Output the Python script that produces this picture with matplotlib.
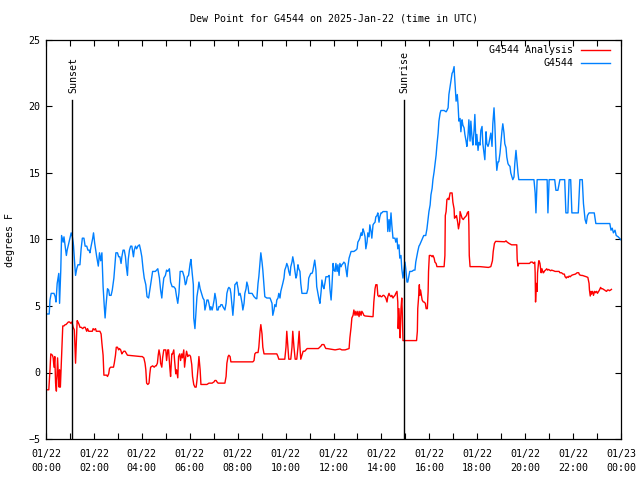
import matplotlib
matplotlib.use('Agg')
import matplotlib.pyplot as plt
import matplotlib.transforms as mtransforms
import numpy as np

# G4544 observations: minutes after 00:00 UTC and dew point in degrees F
blue_min = [0, 8, 10, 13, 20, 23, 25, 28, 32, 34, 37, 39, 43, 45, 48, 51, 53, 57, 60, 63, 66, 68, 69, 72, 74, 77,
            80, 85, 88, 91, 95, 98, 102, 105, 108, 110, 113, 117, 119, 122, 124, 127, 131, 134, 137, 140, 143, 146,
            148, 150, 154, 157, 159, 163, 166, 170, 173, 175, 179, 182, 185, 188, 190, 193, 196, 199, 201, 204, 206,
            209, 212, 215, 219, 221, 224, 227, 230, 234, 237, 240, 243, 246, 250, 253, 257, 260, 264, 267, 274, 277,
            280, 284, 287, 290, 292, 295, 299, 302, 305, 309, 312, 316, 320, 324, 327, 330, 333, 336, 342, 346, 349,
            351, 354, 357, 361, 363, 366, 369,
            370, 373, 376, 378, 381, 383, 386, 388, 391, 393, 396, 398, 401, 403, 406, 408, 411, 413, 416, 418, 421,
            423, 426, 428, 431, 433, 436, 438, 441, 443, 446, 448, 451, 453, 456, 458, 461, 463, 466, 468, 471, 473,
            476, 478, 481, 483, 486, 488, 491, 493, 496, 498, 501, 503, 506, 508, 516, 521, 526, 528, 531, 533, 536,
            538, 541, 543, 546, 548, 553, 561, 563, 566, 568, 571, 573, 576, 578, 581, 583, 586, 588, 591, 593, 596,
            598, 601, 603, 606, 608, 611, 613, 616, 618, 621, 623, 626, 628, 631, 633, 636, 638, 641, 653, 656, 658,
            661, 663, 666, 668, 671, 673, 676, 678, 681, 684, 686, 689, 691, 694, 696, 699, 701, 704, 706, 709, 711,
            714, 716, 719, 721, 724,
            726, 729, 731, 734, 736, 739, 741, 744, 746, 749, 751, 754, 756, 759, 761, 764, 771, 776, 779, 781, 784,
            786, 789, 791, 794, 796, 799, 801, 804, 806, 809, 811, 814, 816, 819, 821, 824, 826, 829, 831, 834, 836,
            839, 841, 844, 854, 856, 859, 861, 864, 866, 869, 871, 874, 876, 879, 881, 884, 886, 889, 891, 894, 896,
            899, 901, 904, 906, 909, 911, 916, 921, 924, 926, 929, 931, 934, 936, 941, 946, 951, 954, 957, 959, 962,
            964, 967, 969, 972, 974, 977, 979, 982, 984, 987, 989, 997, 1002, 1004, 1007, 1009, 1012, 1014, 1017,
            1019, 1022, 1023, 1025, 1027, 1030, 1032, 1034, 1037, 1039, 1042, 1044, 1047, 1049, 1052, 1054, 1057,
            1059, 1062, 1064, 1067, 1069, 1072, 1074, 1077, 1079, 1082, 1084, 1087,
            1089, 1092, 1094, 1097, 1099, 1102, 1104, 1107, 1109, 1112, 1114, 1117, 1119, 1122, 1124, 1127, 1129,
            1132, 1134, 1137, 1139, 1142, 1144, 1147, 1149, 1152, 1154, 1157, 1159, 1162, 1164, 1167, 1169, 1172,
            1174, 1177, 1179, 1182, 1184,
            1222, 1225, 1227, 1230, 1255, 1257, 1260, 1274, 1277, 1282, 1287, 1299, 1302, 1307, 1310, 1314, 1317,
            1333, 1337, 1343, 1346, 1350, 1353, 1356, 1360, 1373, 1377, 1412, 1415, 1418, 1421, 1425, 1428, 1433,
            1440]
blue_val = [4.4, 4.4, 5.45, 5.95, 5.95, 5.7, 5.3, 6.7, 7.45, 5.2, 7.7, 10.3, 9.8, 10.2, 9.5, 8.8, 9.2, 9.7, 10.1,
            10.5, 10.2, 9.8, 9.5, 8.1, 7.3, 7.8, 8.1, 8.1, 9.3, 10.1, 10.1, 9.5, 9.5, 9.2, 9.2, 9.0, 9.5, 10.1, 10.5,
            9.7, 9.3, 8.7, 8.0, 9.0, 8.4, 9.0, 6.45, 4.95, 4.1, 4.95, 6.3, 6.2, 5.8, 5.8, 6.2, 7.1, 8.2, 9.0, 9.0,
            8.7, 8.7, 8.2, 8.7, 9.2, 9.2, 8.7, 8.0, 7.3, 8.5, 9.2, 9.5, 9.5, 8.7, 9.2, 9.5, 9.3, 9.5, 9.6, 9.2, 8.7,
            7.8, 7.1, 6.6, 5.7, 5.6, 6.2, 7.0, 7.6, 7.6, 7.7, 7.8, 7.1, 6.2, 5.6, 6.3, 7.1, 7.3, 7.7, 7.6, 7.8, 6.8,
            6.45, 6.45, 6.3, 5.7, 5.2, 6.0, 7.6, 7.6, 7.2, 6.6, 6.7, 7.2, 7.3, 8.2, 8.5, 7.5, 6.6,
            4.1, 3.3, 4.8, 5.7, 6.3, 6.8, 6.3, 6.1, 5.8, 5.6, 5.45, 4.7, 5.1, 5.45, 5.45, 5.2, 4.7, 4.95, 4.7, 4.95,
            5.45, 5.95, 5.45, 4.7, 4.7, 4.95, 4.95, 5.1, 5.1, 4.95, 4.8, 4.7, 5.2, 5.95, 6.3, 6.4, 6.3, 5.95, 4.95,
            4.3, 5.45, 6.6, 6.7, 6.8, 6.3, 5.8, 5.95, 5.7, 5.2, 4.7, 5.2, 5.95, 6.3, 6.8, 6.45, 5.95, 5.95, 5.7,
            5.55, 5.55, 6.7, 7.2, 8.3, 9.0, 8.3, 7.7, 6.45, 5.7, 5.6, 5.6, 5.45, 5.2, 4.3, 4.7, 5.1, 4.95, 5.45, 5.6,
            5.95, 5.6, 6.1, 6.45, 6.7, 7.1, 7.7, 7.95, 8.2, 7.95, 7.6, 7.3, 7.95, 8.3, 8.7, 8.2, 7.7, 7.1, 7.3, 8.1,
            7.8, 7.6, 6.7, 5.95, 5.95, 6.3, 7.1, 7.3, 7.45, 7.45, 7.6, 8.1, 8.45, 7.7, 6.45, 5.95, 5.45, 5.2, 6.1,
            6.95, 6.45, 6.3, 6.8, 7.2, 7.2, 7.2, 7.3, 6.3, 5.45, 6.45, 8.2, 7.7, 7.6,
            8.2, 7.6, 8.1, 7.3, 8.2, 7.95, 8.1, 8.2, 8.3, 8.2, 7.8, 7.2, 7.95, 8.6, 8.8, 9.1, 9.1, 9.2, 9.3, 9.8,
            9.96, 10.1, 10.5, 10.3, 10.8, 10.6, 10.2, 9.3, 9.8, 10.5, 10.2, 11.1, 10.6, 10.1, 11.1, 11.2, 11.3, 11.7,
            11.8, 12.0, 11.3, 11.7, 12.0, 12.0, 12.1, 12.1, 10.6, 11.5, 10.6, 12.0, 11.1, 10.1, 10.1, 10.1, 9.8,
            10.1, 9.3, 9.6, 8.6, 8.8, 7.8, 7.1, 7.6, 8.3, 7.8, 6.8, 6.8, 7.3, 7.6, 7.6, 7.7, 7.7, 8.3, 8.8, 9.1,
            9.5, 9.6, 9.96, 10.3, 10.3, 10.8, 11.6, 12.1, 12.6, 13.35, 13.85, 14.5, 15.1, 15.6, 16.35, 17.1, 18.0,
            18.9, 19.5, 19.7, 19.7, 19.6, 19.7, 19.9, 20.9, 21.5, 21.9, 22.5, 22.6, 23.0, 22.4, 21.4, 20.4, 20.9,
            20.1, 18.9, 19.1, 18.1, 19.0, 18.6, 18.4, 17.9, 17.4, 17.0, 17.9, 19.0, 17.4, 18.9, 17.6, 17.1, 18.2,
            19.4, 17.1, 17.9, 16.7, 17.3, 17.1,
            18.2, 18.5, 17.2, 16.5, 16.0, 18.1, 17.2, 17.0, 17.2, 17.7, 18.0, 17.0, 18.7, 19.9, 18.7, 16.2, 15.2,
            15.85, 15.85, 16.5, 17.2, 18.2, 18.7, 18.0, 17.2, 16.9, 16.2, 15.7, 15.6, 15.5, 15.0, 14.7, 14.5, 14.7,
            15.7, 16.7, 16.0, 15.0, 14.5,
            14.5, 13.5, 12.0, 14.5, 14.5, 12.0, 14.5, 14.5, 13.7, 13.7, 14.5, 14.5, 12.0, 12.0, 14.5, 14.5, 12.0,
            12.0, 14.5, 14.5, 12.7, 11.5, 11.2, 11.8, 12.0, 12.0, 11.2, 11.2, 10.7, 10.85, 10.5, 10.7, 10.3, 10.2,
            9.97]

# G4544 Analysis
red_min = [0, 7, 10, 12, 16, 18, 20, 22, 24, 26, 28, 29, 31, 33, 34, 36, 38, 40, 42, 45, 48, 50, 53, 56, 59, 62,
           65, 68, 71, 73, 74, 76, 78, 80, 83, 85, 88, 92, 95, 98, 102, 104, 107, 112, 116, 118, 121, 124, 126, 129,
           135, 138, 140, 143, 145, 152, 154, 157, 159, 162, 165, 169, 171, 174, 176, 179, 182, 184, 187, 190, 192,
           195, 198, 200, 204, 237, 241, 245, 248, 250, 252, 255, 258, 260, 262, 267, 271, 274, 276, 279, 281, 283,
           286, 287, 290, 292, 295, 297, 300, 302, 305, 307, 310, 312, 315, 317, 320, 322, 325, 327, 330, 332, 335,
           337, 340, 342, 345, 347, 350, 352, 355, 357, 360, 362, 365, 367, 370,
           373, 376, 378, 381, 383, 386, 388, 398, 403, 408, 416, 421, 423, 426, 428, 431, 448, 451, 453, 456, 458,
           461, 463, 466, 518, 521, 523, 526, 531, 533, 536, 538, 541, 543, 546, 578, 581, 583, 598, 601, 603, 606,
           608, 613, 616, 618, 621, 624, 628, 631, 634, 636, 638, 641, 644, 646, 648, 651, 654, 682, 689, 691, 694,
           696, 699, 701, 704, 724,
           736, 741, 749, 756, 759, 761, 764, 766, 769, 771, 774, 776, 779, 781, 784, 786, 789, 791, 794, 796, 799,
           816, 819, 821, 824, 826, 829, 831, 834, 836, 839, 841, 844, 846, 849, 851, 854, 856, 859, 861, 864, 866,
           869, 871, 874, 876, 879, 881, 882, 884, 886, 887, 889, 891, 892, 894, 928, 930, 931, 933, 935, 936, 938,
           940, 942, 945, 947, 950, 952, 955, 957, 958, 960, 964, 967, 969, 972, 974, 977, 979, 997, 999, 1000,
           1002, 1004, 1007, 1009, 1012, 1017, 1019, 1022, 1023, 1026, 1028, 1031, 1033, 1036, 1037, 1040, 1042,
           1045, 1047, 1050, 1053, 1055, 1058, 1059, 1060, 1062, 1087,
           1108, 1114, 1118, 1120, 1123, 1126, 1149, 1152, 1155, 1160, 1166, 1179, 1180, 1182, 1184, 1191, 1196,
           1201, 1206, 1211, 1214, 1218, 1221, 1224, 1225, 1226, 1228, 1230, 1231, 1234, 1235, 1237, 1240, 1242,
           1245, 1246, 1249, 1251, 1254, 1256, 1259, 1261, 1264, 1266, 1271, 1275, 1280, 1285, 1287, 1291, 1295,
           1298, 1300, 1303, 1305, 1308, 1310, 1313, 1316, 1320, 1326, 1330, 1334, 1336, 1340, 1343, 1348, 1353,
           1357, 1360, 1361, 1363, 1365, 1366, 1369, 1371, 1374, 1376, 1379, 1381, 1384, 1386, 1389, 1391, 1394,
           1396, 1399, 1401, 1404, 1406, 1409, 1411, 1414, 1416]
red_val = [-1.3, -1.3, 0.2, 1.4, 1.3, 1.1, 0.4, 1.2, -0.8, -1.4, 0.4, 1.1, -0.3, -1.1, 0.2, -1.1, 0.4, 1.9, 3.5,
           3.5, 3.6, 3.6, 3.7, 3.8, 3.8, 3.7, 3.8, 3.4, 3.2, 1.4, 0.7, 2.4, 3.9, 3.8, 3.6, 3.4, 3.4, 3.3, 3.4, 3.4,
           3.1, 3.3, 3.1, 3.1, 3.1, 3.3, 3.2, 3.3, 3.1, 3.1, 3.1, 2.9, 2.2, 1.3, -0.2, -0.2, -0.3, -0.1, 0.3, 0.4,
           0.4, 0.4, 0.7, 1.3, 1.9, 1.9, 1.7, 1.8, 1.7, 1.4, 1.5, 1.6, 1.6, 1.5, 1.3, 1.2, 1.2, 1.1, 0.7, 0.2, -0.8,
           -0.9, -0.8, -0.1, 0.4, 0.5, 0.4, 0.5, 0.5, 0.7, 1.3, 1.7, 1.2, 0.7, 0.4, 1.1, 1.7, 1.7, 1.7, 0.9, 1.7,
           1.7, 0.4, -0.3, 1.4, 1.4, 1.7, 0.9, -0.1, 0.2, -0.4, 1.2, 1.4, 0.9, 1.4, 1.1, 1.7, 0.4, 1.2, 1.6, 1.2,
           1.3, 1.3, 1.2, 0.6, -0.3, -0.9,
           -1.1, -1.1, -0.6, 0.4, 1.2, 0.2, -0.9, -0.9, -0.9, -0.8, -0.8, -0.7, -0.6, -0.6, -0.7, -0.8, -0.8, -0.3,
           0.7, 1.2, 1.3, 1.2, 0.8, 0.8, 0.8, 0.9, 1.4, 1.5, 1.5, 1.9, 3.1, 3.6, 2.9, 1.9, 1.4, 1.4, 1.2, 1.0, 1.0,
           1.9, 3.1, 1.9, 1.0, 1.0, 1.9, 3.1, 1.9, 1.0, 1.0, 1.9, 3.1, 1.9, 1.0, 1.3, 1.6, 1.6, 1.6, 1.7, 1.8, 1.8,
           2.0, 2.1, 2.1, 2.1, 1.9, 1.8, 1.8, 1.7,
           1.77, 1.7, 1.7, 1.77, 1.8, 2.6, 3.4, 4.1, 4.3, 4.7, 4.3, 4.6, 4.3, 4.6, 4.2, 4.6, 4.3, 4.6, 4.45, 4.3,
           4.25, 4.2, 4.2, 5.3, 6.3, 6.6, 6.6, 5.8, 5.7, 5.8, 5.7, 5.7, 5.8, 5.8, 5.7, 5.6, 5.3, 5.7, 5.95, 5.8, 5.7,
           5.8, 5.6, 5.7, 5.8, 5.95, 6.1, 5.3, 3.3, 4.8, 3.1, 2.6, 4.8, 5.6, 4.8, 2.4, 2.4, 3.1, 4.8, 5.6, 6.6,
           5.8, 6.2, 5.8, 5.45, 5.3, 5.3, 5.2, 4.8, 4.8, 6.1, 7.6, 8.8, 8.8, 8.7, 8.8, 8.6, 8.3, 8.2, 7.96, 7.96,
           8.8, 11.8, 12.1, 13.0, 13.1, 13.0, 13.5, 13.5, 12.8, 12.3, 11.6, 11.7, 11.8, 11.3, 10.8, 11.3, 12.1,
           11.8, 11.6, 11.5, 11.6, 11.7, 11.8, 12.0, 12.1, 11.1, 8.8, 7.96, 7.96,
           7.9, 7.96, 8.4, 9.1, 9.7, 9.86, 9.83, 9.9, 9.8, 9.7, 9.6, 9.6, 8.5, 8.0, 8.2, 8.2, 8.2, 8.2, 8.2, 8.2,
           8.3, 8.3, 8.2, 8.3, 7.5, 5.3, 6.7, 6.1, 7.5, 8.4, 8.4, 8.2, 7.5, 7.8, 7.5, 7.5, 7.65, 7.7, 7.8, 7.7,
           7.75, 7.7, 7.65, 7.7, 7.65, 7.6, 7.6, 7.6, 7.5, 7.5, 7.4, 7.4, 7.2, 7.1, 7.2, 7.15, 7.25, 7.2, 7.3, 7.35,
           7.4, 7.5, 7.5, 7.35, 7.3, 7.3, 7.25, 7.2, 7.15, 6.7, 6.2, 5.75, 6.1, 5.9, 6.1, 5.8, 6.1, 6.0, 6.1, 5.95,
           6.1, 6.2, 6.4, 6.3, 6.3, 6.25, 6.2, 6.15, 6.1, 6.2, 6.2, 6.15, 6.2, 6.25]

sunset_min = 66
sunrise_min = 896

xtick_hours = list(range(0, 25, 2))
xtick_labels = ['01/22\n%02d:00' % h for h in range(0, 24, 2)] + ['01/23\n00:00']
ytick_vals = [-5, 0, 5, 10, 15, 20, 25]

plt.rcParams['font.family'] = 'DejaVu Sans Mono'
plt.rcParams['font.size'] = 7.2

fig = plt.figure(figsize=(6.4, 4.8), dpi=100)
ax = fig.add_axes([46 / 640, 41 / 480, 575 / 640, 399 / 480])

red_color = '#ff0000'
blue_color = '#0080ff'

ax.plot(np.array(red_min) / 60, red_val, color=red_color, lw=1.0)
ax.plot(np.array(blue_min) / 60, blue_val, color=blue_color, lw=1.0)

ax.set_xlim(0, 24)
ax.set_ylim(-5, 25)

# sunset / sunrise markers
trans = mtransforms.blended_transform_factory(ax.transData, ax.transAxes)
for m, name in [(sunset_min, 'Sunset'), (sunrise_min, 'Sunrise')]:
    ax.axvline(m / 60, ymin=0, ymax=0.85, color='black', lw=1.0)
    ax.text(m / 60 + 0.03, 0.867, name, rotation=90, transform=trans, ha='center', va='bottom')

# gnuplot style key: right aligned text, sample to the right
for yk, name, col in [(0.975, 'G4544 Analysis', red_color), (0.942, 'G4544', blue_color)]:
    ax.text(0.917, yk, name, transform=ax.transAxes, ha='right', va='center')
    ax.plot([0.930, 0.981], [yk, yk], transform=ax.transAxes, color=col, lw=1.0)

ax.set_xticks(xtick_hours)
ax.set_xticklabels(xtick_labels, linespacing=1.5)
ax.set_xticks(range(1, 24, 2), minor=True)
ax.set_yticks(ytick_vals)
ax.tick_params(which='both', direction='in', top=True, right=True, length=4, width=0.8)
ax.tick_params(axis='x', pad=7)
ax.tick_params(axis='y', pad=4)
for s in ax.spines.values():
    s.set_linewidth(0.9)

ax.set_title('Dew Point for G4544 on 2025-Jan-22 (time in UTC)', fontsize=7.2, pad=13)
fig.text(10 / 640, 0.5, 'degrees F', rotation=90, ha='center', va='center')

fig.savefig('out.png', dpi=100)
